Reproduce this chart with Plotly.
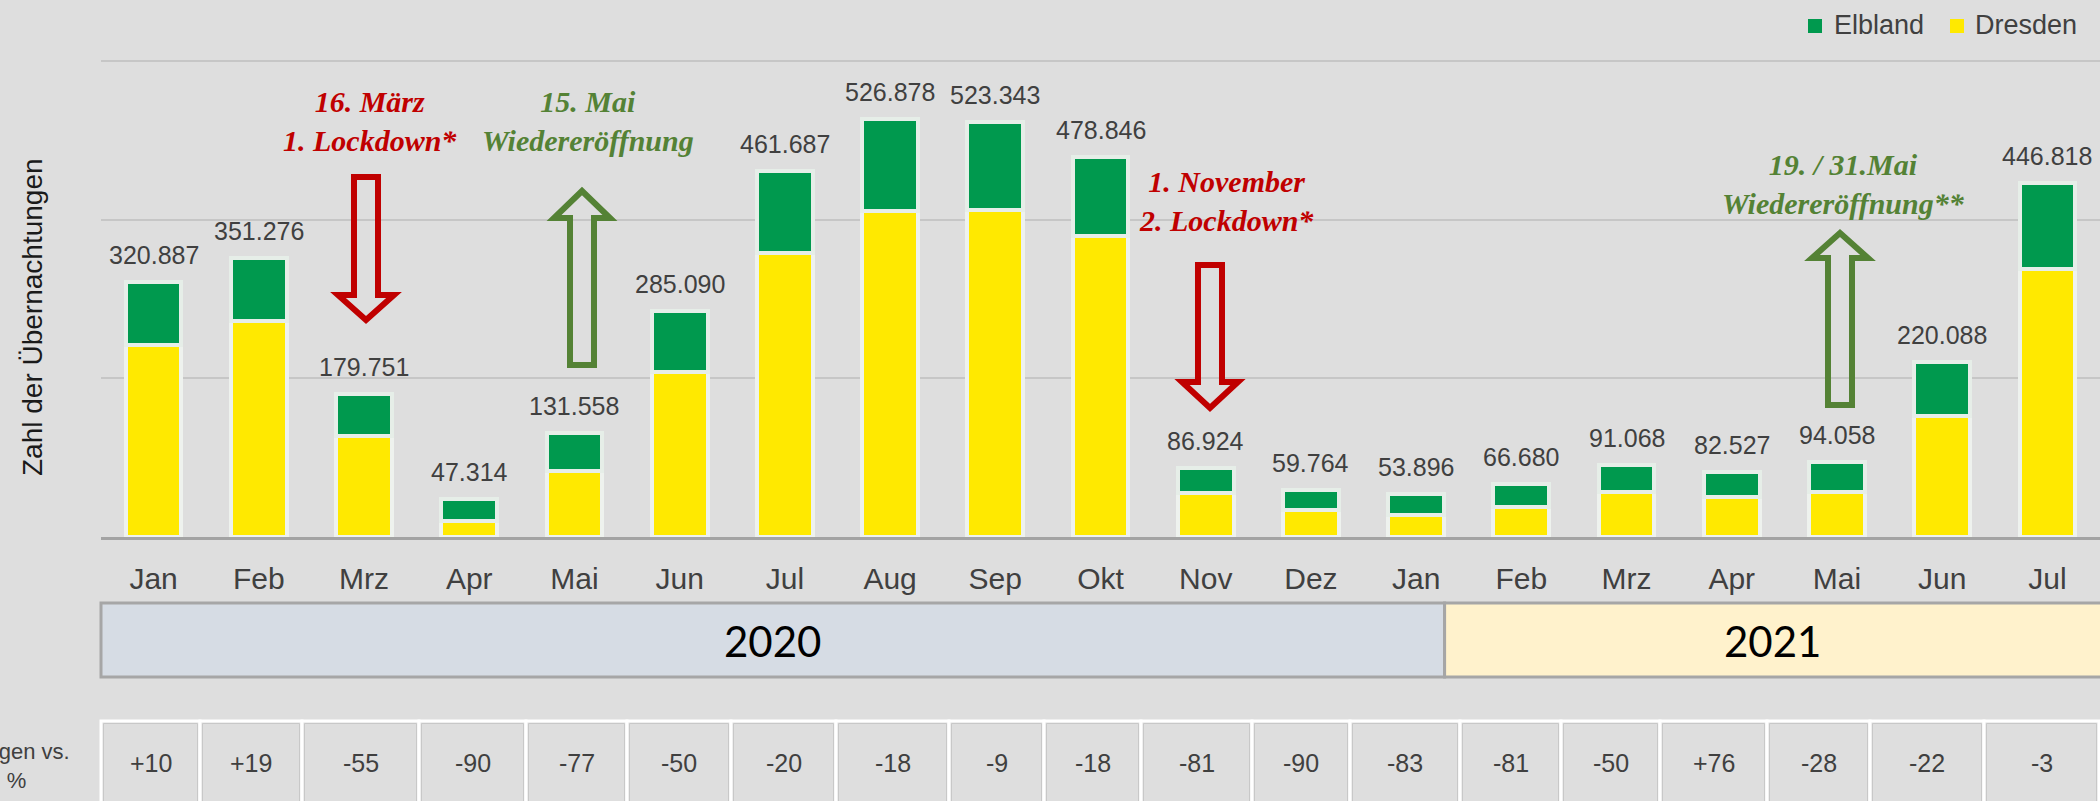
import plotly.graph_objects as go

# ---------------- data ----------------
months = ["Jan", "Feb", "Mrz", "Apr", "Mai", "Jun", "Jul", "Aug", "Sep", "Okt",
          "Nov", "Dez", "Jan", "Feb", "Mrz", "Apr", "Mai", "Jun", "Jul"]
totals = [320887, 351276, 179751, 47314, 131558, 285090, 461687, 526878, 523343,
          478846, 86924, 59764, 53896, 66680, 91068, 82527, 94058, 220088, 446818]
dresden = [242000, 271700, 127600, 20000, 82900, 208100, 357400, 410800, 411800,
           379900, 54900, 34300, 28000, 38300, 56600, 50900, 57000, 152900, 337400]
elbland = [78887, 79576, 52151, 27314, 48658, 76990, 104287, 116078, 111543,
           98946, 32024, 25464, 25896, 28380, 34468, 31627, 37058, 67188, 109418]
change_vs_2019 = [10, 19, -55, -90, -77, -50, -20, -18, -9, -18,
                  -81, -90, -83, -81, -50, 76, -28, -22, -3]
years = ["2020", "2021"]
series_names = ["Elbland", "Dresden"]

# ---------------- styles / layout constants ----------------
W, H = 2100, 801
L_PX, R_PX = 101, 0
B_PX = 537
VAL_PER_PX = 600000 / (537 - 61)
T_PX = 0
Y_MAX = (B_PX - T_PX) * VAL_PER_PX
PLOT_W = W - L_PX - R_PX
PLOT_H = B_PX - T_PX

BG = "#DEDEDE"
GREEN = "#00994E"
YELLOW = "#FFE900"
RED = "#C00000"
OLIVE = "#548235"
TXT = "#404040"
SANS = "Liberation Sans, Arial, sans-serif"
SERIF = "Liberation Serif, DejaVu Serif, serif"


def px_x(px):
    return (px - L_PX) / PLOT_W


def px_y(py):
    return (B_PX - py) / PLOT_H


x = list(range(len(months)))

fig = go.Figure()
fig.add_trace(go.Bar(x=x, y=dresden, name="Dresden",
                     marker=dict(color=YELLOW, line=dict(color="#EEF2EE", width=4)),
                     showlegend=False, hoverinfo="skip"))
fig.add_trace(go.Bar(x=x, y=elbland, name="Elbland",
                     marker=dict(color=GREEN, line=dict(color="#E6EEE8", width=4)),
                     showlegend=False, hoverinfo="skip"))

# legend (drawn manually)
legend_items = [(series_names[0], GREEN, 1808, 1832), (series_names[1], YELLOW, 1950, 1973)]
for nm, col, sq_x, tx_x in legend_items:
    fig.add_shape(type="rect", xref="paper", yref="paper", x0=px_x(sq_x), x1=px_x(sq_x + 14),
                  y0=px_y(33), y1=px_y(19), fillcolor=col, line=dict(width=0), layer="above")
    fig.add_annotation(xref="paper", yref="paper", x=px_x(tx_x), y=px_y(25), text=nm, showarrow=False,
                       xanchor="left", yanchor="middle", font=dict(family=SANS, size=27, color=TXT))

# total labels
for i, t in enumerate(totals):
    fig.add_annotation(x=i, y=t, text=f"{t:,}".replace(",", "."), showarrow=False,
                       yanchor="middle", yshift=27, font=dict(family=SANS, size=25, color=TXT))

# event annotations & arrows (positions in pixels)
events = [
    dict(text="16. März<br>1. Lockdown*", color=RED, tx=370, ty=121, ax=366, kind="down", a=174, b=295, c=324),
    dict(text="15. Mai<br>Wiedereröffnung", color=OLIVE, tx=588, ty=121, ax=582, kind="up", a=187, b=218, c=368),
    dict(text="1. November<br>2. Lockdown*", color=RED, tx=1226, ty=201, ax=1210, kind="down", a=262, b=382, c=412),
    dict(text="19. / 31.Mai<br>Wiedereröffnung**", color=OLIVE, tx=1843, ty=184, ax=1840, kind="up", a=229, b=258, c=408),
]
SW, HW = 12, 28
for ev in events:
    fig.add_annotation(xref="paper", yref="paper", x=px_x(ev["tx"]), y=px_y(ev["ty"]), text=ev["text"],
                       showarrow=False, align="center", xanchor="center", yanchor="middle",
                       font=dict(family=SERIF, size=30, color=ev["color"], weight="bold", style="italic"))
    cx = ev["ax"]
    if ev["kind"] == "down":
        top, head, tip = ev["a"] + 3, ev["b"], ev["c"] - 4
        pts = [(cx - SW, top), (cx + SW, top), (cx + SW, head), (cx + HW, head), (cx, tip),
               (cx - HW, head), (cx - SW, head)]
    else:
        tip, head, bot = ev["a"] + 4, ev["b"], ev["c"] - 3
        pts = [(cx, tip), (cx + HW, head), (cx + SW, head), (cx + SW, bot), (cx - SW, bot),
               (cx - SW, head), (cx - HW, head)]
    path = "M " + " L ".join(f"{px_x(px):.5f},{px_y(py):.5f}" for px, py in pts) + " Z"
    fig.add_shape(type="path", xref="paper", yref="paper", path=path,
                  line=dict(color=ev["color"], width=6), fillcolor="rgba(0,0,0,0)", layer="above")

# year bands
band_edges = [101, 1444.6, 2104]
band_colors = ["#D6DCE4", "#FFF2CC"]
for k, yr in enumerate(years):
    fig.add_shape(type="rect", xref="paper", yref="paper",
                  x0=px_x(band_edges[k]), x1=px_x(band_edges[k + 1]), y0=px_y(677), y1=px_y(603),
                  fillcolor=band_colors[k], line=dict(color="#A6A6A6", width=3), layer="above")
    fig.add_annotation(xref="paper", yref="paper", x=px_x((band_edges[k] + min(band_edges[k + 1], 2100)) / 2),
                       y=px_y(641), text=yr, showarrow=False, xanchor="center", yanchor="middle",
                       font=dict(family="Lato, Open Sans, sans-serif", size=42, color="#000000"))

# change table
cell_edges = [101, 200, 302, 419, 526, 627, 731, 836, 949, 1044, 1141, 1252, 1350, 1460,
              1561, 1660, 1767, 1870, 1984, 2099]
for i, v in enumerate(change_vs_2019):
    x0, x1 = cell_edges[i], cell_edges[i + 1]
    fig.add_shape(type="rect", xref="paper", yref="paper", x0=px_x(x0), x1=px_x(x1),
                  y0=px_y(815), y1=px_y(721), fillcolor=BG, line=dict(color="#FFFFFF", width=3), layer="above")
    fig.add_shape(type="rect", xref="paper", yref="paper", x0=px_x(x0 + 2.5), x1=px_x(x1 - 2.5),
                  y0=px_y(815), y1=px_y(723.5), fillcolor="rgba(0,0,0,0)", line=dict(color="#C8C8C8", width=1),
                  layer="above")
    fig.add_annotation(xref="paper", yref="paper", x=px_x((x0 + x1) / 2), y=px_y(763), text=f"{v:+d}",
                       showarrow=False, xanchor="center", yanchor="middle",
                       font=dict(family=SANS, size=25, color=TXT))

fig.add_annotation(xref="paper", yref="paper", x=px_x(-23), y=px_y(766), text="Veränderungen vs.<br>2019 in %",
                   showarrow=False, xanchor="center", yanchor="middle", align="center",
                   font=dict(family=SANS, size=22, color=TXT))

# y title
fig.add_annotation(xref="paper", yref="paper", x=px_x(32), y=px_y(317), text="Zahl der Übernachtungen",
                   textangle=-90, showarrow=False, xanchor="center", yanchor="middle",
                   font=dict(family=SANS, size=28, color="#1A1A1A"))

fig.update_layout(
    width=W, height=H, autosize=False,
    margin=dict(l=L_PX, r=R_PX, t=T_PX, b=H - B_PX, pad=0),
    paper_bgcolor=BG, plot_bgcolor=BG,
    barmode="stack", bargap=0.47,
    xaxis=dict(range=[-0.5, len(months) - 0.5], tickmode="array", tickvals=x, ticktext=months,
               tickfont=dict(family=SANS, size=30, color=TXT), showgrid=False, zeroline=False,
               showline=True, linecolor="#A3A3A3", linewidth=3, ticks="", ticklabelstandoff=13,
               fixedrange=True, automargin=False),
    yaxis=dict(range=[0, Y_MAX], tick0=0, dtick=200000, showticklabels=False, showgrid=True,
               gridcolor="#C6C6C6", gridwidth=2, zeroline=False, fixedrange=True, automargin=False),
    showlegend=False,
)

fig.write_html("out.html", config={"displayModeBar": False},
               post_script="document.body.style.margin='0';document.body.style.overflow='hidden';")
